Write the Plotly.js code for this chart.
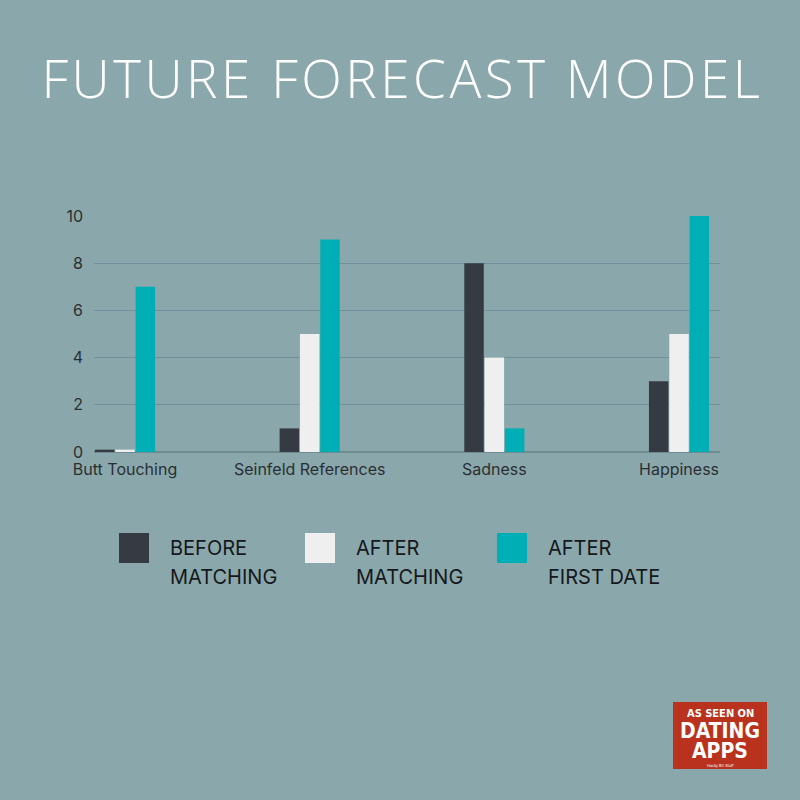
<!DOCTYPE html>
<html>
<head>
<meta charset="utf-8">
<script src="https://cdn.plot.ly/plotly-3.0.1.min.js"></script>
<style>
html,body{margin:0;padding:0;background:#8aa8ab;}
.gtitle{letter-spacing:3.5px;}
</style>
</head>
<body>
<div id="chart" style="width:800px;height:800px;"></div>
<script>
const categories = ["Butt Touching", "Seinfeld References", "Sadness", "Happiness"];
const beforeMatching = [0.1, 1, 8, 3];
const afterMatching = [0.1, 5, 4, 5];
const afterFirstDate = [7, 9, 1, 10];
const seriesNames = [["BEFORE", "MATCHING"], ["AFTER", "MATCHING"], ["AFTER", "FIRST DATE"]];
const seriesColors = ["#363b43", "#efefef", "#00aeb5"];
const yTicks = [0, 2, 4, 6, 8, 10];

const values = [beforeMatching, afterMatching, afterFirstDate];
const traces = values.map((v, i) => ({
  type: "bar", x: categories, y: v, name: seriesNames[i].join(" "),
  marker: {color: seriesColors[i], line: {width: 0}},
  showlegend: false, hoverinfo: "skip"
}));

const PX = x => (x - 94) / 626;
const PY = y => (452 - y) / 236;
const shapes = [];
const annotations = [];
const legX = [119, 305, 497];
seriesNames.forEach((n, i) => {
  shapes.push({type: "rect", xref: "paper", yref: "paper",
    x0: PX(legX[i]), x1: PX(legX[i] + 30),
    y0: PY(563), y1: PY(533),
    fillcolor: seriesColors[i], line: {width: 0}});
  n.forEach((line, j) => annotations.push({xref: "paper", yref: "paper", x: PX(legX[i] + 49),
    y: PY(548 + j * 29), xanchor: "left", yanchor: "middle", align: "left",
    text: line, showarrow: false,
    font: {family: "Inter, Noto Sans, sans-serif", size: 20, color: "#15181c"}}));
});
// badge
shapes.push({type: "rect", xref: "paper", yref: "paper",
  x0: PX(673), x1: PX(767), y0: PY(769), y1: PY(702),
  fillcolor: "#b9321d", line: {width: 0}});
const badge = [
  {t: "<b>AS SEEN ON</b>", y: 713, s: 11},
  {t: "<b>DATING</b>", y: 731, s: 21},
  {t: "<b>APPS</b>", y: 751, s: 21},
  {t: "Hacky Bit Stuff", y: 765, s: 4}
];
badge.forEach(b => annotations.push({xref: "paper", yref: "paper",
  x: PX(720), y: PY(b.y), xanchor: "center", yanchor: "middle",
  text: b.t, showarrow: false,
  font: {family: "DejaVu Sans Condensed, Liberation Sans Narrow, sans-serif", size: b.s, color: "#ffffff"}}));

const layout = {
  width: 800, height: 800,
  paper_bgcolor: "#8aa8ab", plot_bgcolor: "#8aa8ab",
  margin: {l: 94, r: 80, t: 216, b: 348},
  title: {text: "FUTURE FORECAST MODEL", x: 0.503, xref: "container", xanchor: "center",
    y: 1 - 79 / 800, yref: "container", yanchor: "middle",
    font: {family: "Open Sans, sans-serif", size: 53, color: "#ffffff", weight: 300}},
  barmode: "group", bargap: 0.67, bargroupgap: 0.04,
  xaxis: {type: "category", range: [-0.168, 3.222], showgrid: false, zeroline: false,
    showline: false, ticks: "", ticklabelstandoff: 6,
    tickfont: {family: "Inter, Noto Sans, sans-serif", size: 16, color: "#2a2f33"}},
  yaxis: {range: [0, 10], tickvals: yTicks, ticktext: yTicks.map(String),
    showgrid: true, gridcolor: "#72909a", gridwidth: 1.2, zeroline: true, zerolinecolor: "#6e8b90",
    zerolinewidth: 1.5, showline: false, ticks: "", ticklabelstandoff: 10,
    tickfont: {family: "Inter, Noto Sans, sans-serif", size: 16, color: "#2a2f33"}},
  shapes: shapes, annotations: annotations, showlegend: false
};
Plotly.newPlot("chart", traces, layout, {displayModeBar: false, staticPlot: true});
</script>
</body>
</html>
